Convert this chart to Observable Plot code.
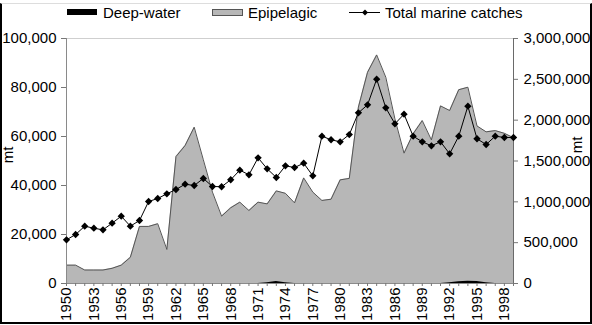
<!DOCTYPE html>
<html>
<head>
<meta charset="utf-8">
<script src="https://cdn.jsdelivr.net/npm/d3@7"></script>
<script src="https://cdn.jsdelivr.net/npm/@observablehq/plot@0.6"></script>
<style>
  html, body { margin: 0; padding: 0; background: #fff; }
  #wrap { position: relative; width: 592px; height: 325px; overflow: hidden; font-family: "Liberation Sans", Arial, sans-serif; }
  #frame { position: absolute; left: 0; top: 3px; width: 588px; height: 318px; border-left: 2px solid #000; border-right: 2px solid #000; border-bottom: 2px solid #000; border-top: 1px solid #ddd; pointer-events: none; }
  .leg { position: absolute; top: 3px; font-size: 15px; line-height: 20px; color: #000; white-space: nowrap; }
  .leg svg { position: absolute; top: 5px; }
  .leg span { position: absolute; left: 36px; top: 0; }
  .unit { position: absolute; width: 30px; height: 18px; line-height: 18px; text-align: center; font-size: 15px; color: #000; transform: rotate(-90deg); transform-origin: 50% 50%; }
</style>
</head>
<body>
<div id="wrap">
  <div id="chart"></div>
  <div class="leg" style="left:67px"><svg width="32" height="10"><rect x="0" y="1" width="30" height="6" fill="#000"/></svg><span>Deep-water</span></div>
  <div class="leg" style="left:212px"><svg width="32" height="10"><rect x="0.5" y="1.5" width="30" height="6" fill="#b7b7b7" stroke="#555"/></svg><span>Epipelagic</span></div>
  <div class="leg" style="left:349px"><svg width="32" height="10"><line x1="0" y1="4.5" x2="31" y2="4.5" stroke="#000"/><path d="M16,1.5 L19,4.5 L16,7.5 L13,4.5 Z" fill="#000"/></svg><span>Total marine catches</span></div>
  <div class="unit" style="left:-7px; top:146px">mt</div>
  <div class="unit" style="left:562px; top:136px">mt</div>
  <div id="frame"></div>
</div>
<script>
const years = [1950,1951,1952,1953,1954,1955,1956,1957,1958,1959,
  1960,1961,1962,1963,1964,1965,1966,1967,1968,1969,
  1970,1971,1972,1973,1974,1975,1976,1977,1978,1979,
  1980,1981,1982,1983,1984,1985,1986,1987,1988,1989,
  1990,1991,1992,1993,1994,1995,1996,1997,1998,1999];
const labelYears = [1950,1953,1956,1959,1962,1965,1968,1971,1974,1977,1980,1983,1986,1989,1992,1995,1998];
const deepWater = [0,0,0,0,0,0,0,0,0,0,
  0,0,0,0,0,0,0,0,0,0,
  0,0,300,800,300,0,0,0,0,0,
  0,0,0,0,0,0,0,0,0,0,
  0,0,300,700,900,800,300,0,0,0];
const epipelagic = [7500,7500,5500,5500,5500,6200,7500,10700,23300,23300,
  24400,13900,51800,56300,63800,50500,37300,27500,30900,33200,
  29800,33200,32200,37000,36500,32900,43100,37300,33900,34400,
  42300,42900,72000,86200,93300,84200,67200,53200,61100,66500,
  58600,72500,70300,78400,79200,63500,61600,62400,61300,59500];
const totalMarine = [535000,600000,702000,677000,657000,739000,824000,702000,771000,1004000,
  1041000,1098000,1151000,1216000,1200000,1286000,1188000,1185000,1270000,1388000,
  1331000,1539000,1404000,1298000,1441000,1420000,1473000,1318000,1804000,1760000,
  1735000,1824000,2090000,2188000,2502000,2151000,1955000,2073000,1804000,1735000,
  1686000,1735000,1588000,1804000,2171000,1772000,1702000,1804000,1788000,1788000];
const leftTicks = [0,20000,40000,60000,80000,100000];
const rightTicks = [0,500000,1000000,1500000,2000000,2500000,3000000];
const ratio = 30; // right axis max / left axis max

const rows = years.map((year, i) => ({year, deep: deepWater[i], epi: epipelagic[i], total: totalMarine[i]}));
const fmt = d3.format(",");

const chart = Plot.plot({
  width: 592,
  height: 325,
  marginLeft: 66,
  marginRight: 79,
  marginTop: 38,
  marginBottom: 42,
  style: {fontFamily: "'Liberation Sans', Arial, sans-serif", fontSize: "15px", background: "transparent", color: "#000"},
  x: {domain: [1950, 1999], label: null},
  y: {domain: [0, 100000], label: null},
  marks: [
    Plot.ruleY([100000], {stroke: "#cfcfcf"}),
    Plot.area(rows, {x1: "year", y1: 0, y2: d => d.deep + d.epi, fill: "#b7b7b7"}),
    Plot.line(rows, {x: "year", y: d => d.deep + d.epi, stroke: "#555", strokeWidth: 1}),
    Plot.area(rows, {x1: "year", y1: 0, y2: "deep", fill: "#000"}),
    Plot.ruleX([1950], {stroke: "#8a8a8a"}),
    Plot.ruleX([1999], {stroke: "#6a6a6a"}),
    Plot.ruleY([0], {stroke: "#8a8a8a"}),
    Plot.line(rows, {x: "year", y: d => d.total / ratio, stroke: "#000", strokeWidth: 1}),
    Plot.dot(rows, {x: "year", y: d => d.total / ratio, symbol: "diamond2", r: 3.3, fill: "#000", stroke: "none"}),
    Plot.axisY(leftTicks, {anchor: "left", tickSize: 5, tickPadding: 5, stroke: "#777", tickFormat: fmt, label: null}),
    Plot.axisY(rightTicks.map(v => v / ratio), {anchor: "right", tickSize: 4, tickPadding: 6, stroke: "#777", tickFormat: d => fmt(Math.round(d * ratio)), label: null}),
    Plot.axisX(years, {anchor: "bottom", tickSize: 3, stroke: "#777", tickFormat: () => "", label: null}),
    Plot.axisX(labelYears, {anchor: "bottom", tickSize: 0, tickPadding: 4, tickRotate: -90, tickFormat: d => String(d), label: null})
  ]
});
document.getElementById("chart").appendChild(chart);
</script>
</body>
</html>
